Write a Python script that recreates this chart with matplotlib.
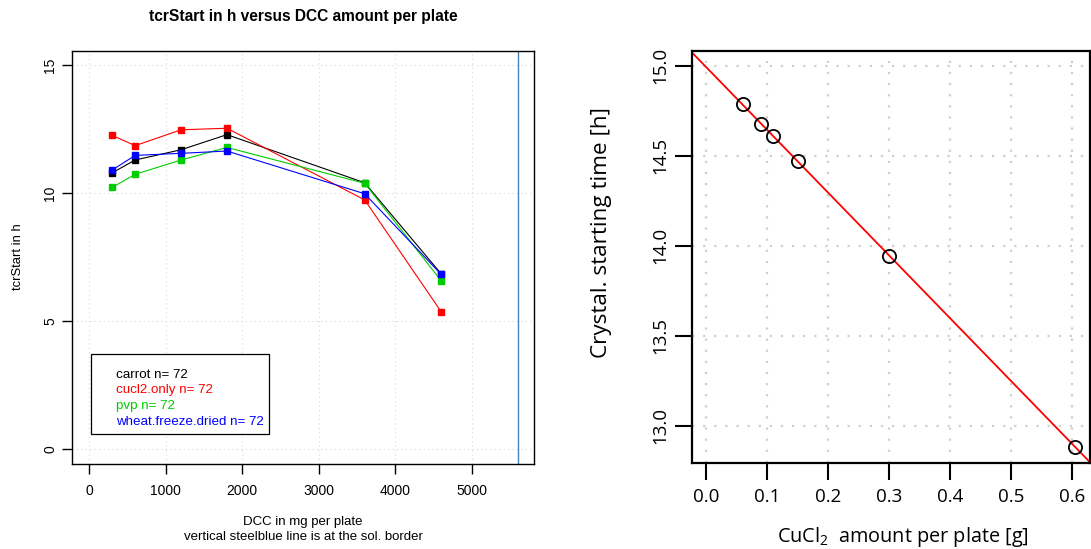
import numpy as np
import matplotlib
matplotlib.use("Agg")
import matplotlib.pyplot as plt
from matplotlib.lines import Line2D
from matplotlib.patches import Rectangle

plt.rcParams["mathtext.fontset"] = "custom"
plt.rcParams["mathtext.rm"] = "Open Sans"
plt.rcParams["mathtext.it"] = "Open Sans:italic"

# ---- data: start time of crystallisation vs DCC amount ----
dcc_mg = [300, 600, 1200, 1800, 3600, 4600]
carrot = [10.79, 11.29, 11.69, 12.28, 10.40, 6.84]
cucl2_only = [12.25, 11.85, 12.47, 12.53, 9.73, 5.36]
pvp = [10.22, 10.73, 11.29, 11.78, 10.38, 6.57]
wheat_freeze_dried = [10.90, 11.47, 11.55, 11.64, 9.97, 6.82]
series_names = ["carrot", "cucl2.only", "pvp", "wheat.freeze.dried"]
series_counts = [72, 72, 72, 72]
sol_border_mg = 5600

# ---- data: starting time vs CuCl2 amount ----
cucl2_g = [0.06, 0.09, 0.11, 0.15, 0.30, 0.605]
start_h = [14.787, 14.678, 14.609, 14.47, 13.943, 12.885]

W, H = 1091, 549
fig = plt.figure(figsize=(W / 100, H / 100), dpi=100)

def fx(px):
    return px / W

def fy(py):
    return 1 - py / H

# ================= left panel =================
lf = ["Liberation Sans", "DejaVu Sans"]
axL = fig.add_axes([fx(72.3), fy(464.3), fx(534.3 - 72.3), fy(50.7) - fy(464.3)])
colors = ["black", "#ff0000", "#00cd00", "#0000ff"]
for ys, c in zip([carrot, cucl2_only, pvp, wheat_freeze_dried], colors):
    axL.plot(dcc_mg, ys, color=c, lw=0.8, marker="s", ms=4.3, mec=c, mfc=c)
axL.axvline(sol_border_mg, color="steelblue", lw=1.0)
axL.set_xlim(-222, 5817)
axL.set_ylim(-0.6, 15.56)
axL.set_xticks([0, 1000, 2000, 3000, 4000, 5000])
axL.set_yticks([0, 5, 10, 15])
axL.grid(True, color="#d8d8d8", ls=(0, (1, 3)), lw=0.8)
axL.set_axisbelow(True)
for s in axL.spines.values():
    s.set_linewidth(1.0)
axL.tick_params(direction="out", length=7, width=1, labelsize=10, pad=7)
axL.tick_params(axis="y", pad=4)
for lbl in axL.get_xticklabels():
    lbl.set_family(lf)
for lbl in axL.get_yticklabels():
    lbl.set_family(lf)
    lbl.set_rotation(90)
    lbl.set_va("center")

# legend: coloured labels inside a plain box
axL.add_patch(Rectangle((fx(91), fy(434.3)), fx(268.7 - 91), fy(354.3) - fy(434.3),
                        transform=fig.transFigure, facecolor="white", edgecolor="black",
                        lw=0.9, zorder=4, clip_on=False))
handles = [Line2D([], [], color="none") for _ in series_names]
labels = [f"{n} n= {k}" for n, k in zip(series_names, series_counts)]
leg = axL.legend(handles, labels, loc="upper left",
                 bbox_to_anchor=(fx(91), fy(362.3)),
                 bbox_transform=fig.transFigure, borderaxespad=0, frameon=False,
                 labelcolor=colors, handlelength=1.1, handletextpad=0.3,
                 labelspacing=0.25, prop={"family": lf, "size": 9.6}, borderpad=0.45)
leg.set_zorder(6)

fig.text(fx(303), fy(17), "tcrStart in h versus DCC amount per plate", ha="center", va="center",
         fontsize=11.2, fontweight="bold", family=lf)
fig.text(fx(18), fy(257), "tcrStart in h", rotation=90, ha="center", va="center",
         fontsize=9.4, family=lf)
fig.text(fx(303), fy(521.7), "DCC in mg per plate", ha="center", va="center",
         fontsize=9.5, family=lf)
fig.text(fx(303), fy(537.5), "vertical steelblue line is at the sol. border", ha="center",
         va="center", fontsize=9.5, family=lf)

# ================= right panel =================
rf = ["Open Sans", "DejaVu Sans"]
axR = fig.add_axes([fx(691.7), fy(462.7), fx(1089.5 - 691.7), fy(50.7) - fy(462.7)])
axR.set_xlim(-0.0234, 0.6285)
axR.set_ylim(12.796, 15.083)
slope, intercept = np.polyfit(cucl2_g, start_h, 1)
xl = np.array(axR.get_xlim())
axR.plot(xl, intercept + slope * xl, color="#ff0000", lw=1.3, zorder=2)
axR.plot(cucl2_g, start_h, ls="none", marker="o", ms=9.5, mfc="none", mec="black",
         mew=1.3, zorder=3)
axR.set_xticks([0.0, 0.1, 0.2, 0.3, 0.4, 0.5, 0.6])
axR.set_yticks([13.0, 13.5, 14.0, 14.5, 15.0])
axR.set_xticklabels([f"{v:.1f}" for v in axR.get_xticks()])
axR.set_yticklabels([f"{v:.1f}" for v in axR.get_yticks()])
axR.grid(True, color="#cfcfcf", ls=(0, (1, 4)), lw=1.6)
axR.set_axisbelow(True)
for s in axR.spines.values():
    s.set_linewidth(1.6)
axR.tick_params(direction="out", length=12.2, width=1.5, labelsize=13.5, pad=6)
axR.tick_params(axis="y", pad=4)
for lbl in axR.get_xticklabels():
    lbl.set_family(rf)
for lbl in axR.get_yticklabels():
    lbl.set_family(rf)
    lbl.set_rotation(90)
    lbl.set_va("center")
fig.text(fx(602), fy(232), "Crystal. starting time [h]", rotation=90, ha="center",
         va="center", fontsize=16.2, family=rf)
fig.text(fx(903), fy(537), r"CuCl$_2$  amount per plate [g]", ha="center", va="center",
         fontsize=14.3, family=rf)

fig.savefig("out.png", dpi=100)
